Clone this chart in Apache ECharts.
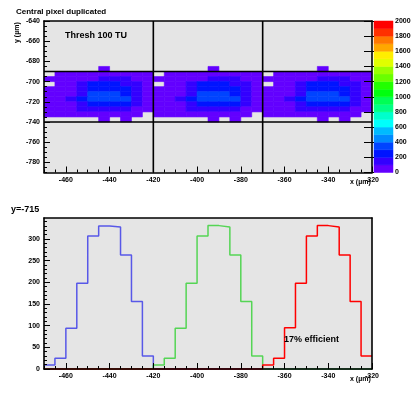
<!DOCTYPE html>
<html><head><meta charset="utf-8">
<script src="https://cdn.jsdelivr.net/npm/echarts@6/dist/echarts.min.js"></script>
<style>html,body{margin:0;padding:0;background:#fff;}#c{width:418px;height:393px;}</style>
</head><body><div id="c"></div>
<script>
// ---------- DATA ----------
// x bin centres of one pixel copy (5 um bins), and shifts of the 3 duplicated copies
const blockColCenters = [-467.5,-462.5,-457.5,-452.5,-447.5,-442.5,-437.5,-432.5,-427.5,-422.5];
const blockShifts = [0, 50, 100];
// y bin centres, top row first
const rowCenters = [-687.5,-692.5,-697.5,-702.5,-707.5,-712.5,-717.5,-722.5,-727.5,-732.5,-737.5];
// counts per cell (rows top->bottom, cols left->right), 0 = empty
const cellRowA = [0,0,0,0,0,12,0,0,0,0];
const cellRowB = [0,5,14,30,45,58,55,40,22,8];
const cellRowC = [6,18,40,70,95,120,125,110,60,20];
const cellRowD = [0,22,60,130,220,260,255,180,110,25];
const cellRowE = [8,24,85,185,280,295,292,250,150,28];
const cellRowF = [9,25,94,198,307,330,328,263,156,30];
const cellRowG = [9,26,110,210,320,345,340,305,170,32];
const cellRowH = [7,22,80,170,260,285,280,230,130,25];
const cellRowI = [5,15,55,110,160,180,178,140,80,15];
const cellRowJ = [3,8,20,35,50,60,55,40,15,0];
const cellRowK = [0,0,0,0,0,6,0,4,0,0];
const cellRows = [cellRowA,cellRowB,cellRowC,cellRowD,cellRowE,cellRowF,cellRowG,cellRowH,cellRowI,cellRowJ,cellRowK];
// pixel boundaries
const pixelEdgesX = [-420, -370];
const pixelEdgesY = [-690, -740];

// projection at y=-715 : bin low edges and counts
const histBinLow = [-470,-465,-460,-455,-450,-445,-440,-435,-430,-425,
                    -420,-415,-410,-405,-400,-395,-390,-385,-380,-375,
                    -370,-365,-360,-355,-350,-345,-340,-335,-330,-325];
const histEnd = -320;
const blueCounts  = [9,25,94,198,307,330,328,263,156,30, 0,0,0,0,0,0,0,0,0,0, 0,0,0,0,0,0,0,0,0,0];
const greenCounts = [0,0,0,0,0,0,0,0,0,0, 9,25,94,198,307,331,328,263,156,30, 0,0,0,0,0,0,0,0,0,0];
const redCounts   = [0,0,0,0,0,0,0,0,0,0, 0,0,0,0,0,0,0,0,0,0, 9,25,95,198,307,331,328,263,156,30];

// tick labels
const xMajorTicks = [-460,-440,-420,-400,-380,-360,-340,-320];
const yTopMajorTicks = [-780,-760,-740,-720,-700,-680,-660,-640];
const yBotMajorTicks = [0,50,100,150,200,250,300];
const colorLevels = [0,100,200,300,400,500,600,700,800,900,1000,1100,1200,1300,1400,1500,1600,1700,1800,1900];

// ---------- STYLE / LAYOUT ----------
const palette = ['#6300ff','#3300ff','#0014ff','#0044ff','#008bff','#00bbff','#00fffc','#00ffcc','#00ff85','#00ff55',
                 '#00ff0e','#22ff00','#69ff00','#99ff00','#e0ff00','#ffee00','#ffa700','#ff7700','#ff3000','#ff0000'];
const binW = 5, binH = 5, levelStep = 100;
const FONT = 'Liberation Sans, Arial, Helvetica, sans-serif';
const frameW = 1.6;
const xMin = -470, xMax = -320, yTopMin = -790, yTopMax = -640, yBotMin = 0, yBotMax = 348.6;

function range(a, b, s){ const r=[]; for(let v=a; v<=b+1e-9; v+=s) r.push(v); return r; }
const xMinor = range(xMin, xMax, 5);
const yTopMinor = range(yTopMin, yTopMax, 5);
const yBotMinor = range(0, 340, 10);

// heat cells
const heatData = [];
blockShifts.forEach(sh => {
  cellRows.forEach((row, ri) => {
    row.forEach((v, ci) => { if (v > 0) heatData.push([blockColCenters[ci] + sh, rowCenters[ri], v]); });
  });
});
const cbData = colorLevels.map((lo, i) => [lo, lo + levelStep, i]);
function histLine(counts){ const d = histBinLow.map((x,i)=>[x, counts[i]]); d.push([histEnd, counts[counts.length-1]]); return d; }

const plain = v => String(v);
const labelStyle = {fontSize: 7, fontWeight: 'bold', fontFamily: FONT, color: '#000', formatter: plain};
function mainX(gi, ticks){ return {gridIndex: gi, type:'value', min:xMin, max:xMax, position:'bottom', z:10,
  axisLine:{show:true, lineStyle:{color:'#000', width:frameW}}, splitLine:{show:false},
  axisTick:{show:true, inside:true, length:6, customValues:ticks, lineStyle:{color:'#000', width:1}},
  axisLabel:Object.assign({customValues:ticks, margin:4}, labelStyle)}; }
function minorX(gi){ return {gridIndex: gi, type:'value', min:xMin, max:xMax, position:'bottom', z:10,
  axisLine:{show:false}, splitLine:{show:false}, axisLabel:{show:false},
  axisTick:{show:true, inside:true, length:3, customValues:xMinor, lineStyle:{color:'#000', width:1}}}; }
function topX(gi){ return {gridIndex: gi, type:'value', min:xMin, max:xMax, position:'top', z:10,
  axisLine:{show:true, onZero:false, lineStyle:{color:'#000', width:frameW}}, splitLine:{show:false}, axisLabel:{show:false}, axisTick:{show:false}}; }
function mainY(gi, mn, mx, ticks){ return {gridIndex: gi, type:'value', min:mn, max:mx, position:'left', z:10,
  axisLine:{show:true, onZero:false, lineStyle:{color:'#000', width:frameW}}, splitLine:{show:false},
  axisTick:{show:true, inside:true, length:6, customValues:ticks, lineStyle:{color:'#000', width:1}},
  axisLabel:Object.assign({customValues:ticks, margin:4}, labelStyle)}; }
function minorY(gi, mn, mx, ticks){ return {gridIndex: gi, type:'value', min:mn, max:mx, position:'left', z:10,
  axisLine:{show:false}, splitLine:{show:false}, axisLabel:{show:false},
  axisTick:{show:true, inside:true, length:3, customValues:ticks, lineStyle:{color:'#000', width:1}}}; }
function rightY(gi, mn, mx){ return {gridIndex: gi, type:'value', min:mn, max:mx, position:'right', z:10,
  axisLine:{show:true, onZero:false, lineStyle:{color:'#000', width:frameW}}, splitLine:{show:false}, axisLabel:{show:false}, axisTick:{show:false}}; }

const chart = echarts.init(document.getElementById('c'), null, {renderer:'canvas'});
const option = {
  animation: false,
  backgroundColor: '#fff',
  grid: [
    {left:44, right:46, top:21, height:151.5, show:true, backgroundColor:'#e5e5e5', borderWidth:0},
    {left:374, width:19, top:21, height:151.5, show:false},
    {left:44, right:46, top:218, height:151, show:true, backgroundColor:'#e5e5e5', borderWidth:0}
  ],
  xAxis: [
    mainX(0, xMajorTicks), minorX(0), topX(0),
    {gridIndex:1, type:'value', min:0, max:1, show:false},
    mainX(2, xMajorTicks), minorX(2), topX(2)
  ],
  yAxis: [
    mainY(0, yTopMin, yTopMax, yTopMajorTicks), minorY(0, yTopMin, yTopMax, yTopMinor), rightY(0, yTopMin, yTopMax),
    {gridIndex:1, type:'value', min:0, max:2000, interval:200, position:'right', z:10,
     axisLine:{show:false}, splitLine:{show:false},
     axisTick:{show:true, inside:true, length:10, lineStyle:{color:'#000', width:1}},
     axisLabel:Object.assign({margin:2}, labelStyle)},
    mainY(2, yBotMin, yBotMax, yBotMajorTicks), minorY(2, yBotMin, yBotMax, yBotMinor), rightY(2, yBotMin, yBotMax)
  ],
  series: [
    {type:'custom', xAxisIndex:0, yAxisIndex:0, data:heatData, z:2,
     renderItem:function(params, api){
       const x = api.value(0), y = api.value(1), v = api.value(2);
       const p0 = api.coord([x - binW/2, y + binH/2]);
       const p1 = api.coord([x + binW/2, y - binH/2]);
       const c = palette[Math.min(palette.length-1, Math.floor(v/levelStep))];
       return {type:'rect', shape:{x:p0[0], y:p0[1], width:p1[0]-p0[0], height:p1[1]-p0[1]},
               style:{fill:c, stroke:c, lineWidth:0.6}};
     }},
    ...pixelEdgesX.map(x => ({type:'line', xAxisIndex:0, yAxisIndex:0, data:[[x, yTopMin],[x, yTopMax]], symbol:'none', z:4,
       lineStyle:{color:'#000', width:frameW}})),
    ...pixelEdgesY.map(y => ({type:'line', xAxisIndex:0, yAxisIndex:0, data:[[xMin, y],[xMax, y]], symbol:'none', z:4,
       lineStyle:{color:'#000', width:frameW}})),
    {type:'custom', xAxisIndex:3, yAxisIndex:3, data:cbData, z:2,
     renderItem:function(params, api){
       const lo = api.value(0), hi = api.value(1), i = api.value(2);
       const p0 = api.coord([0, hi]);
       const p1 = api.coord([1, lo]);
       return {type:'rect', shape:{x:p0[0], y:p0[1], width:p1[0]-p0[0], height:p1[1]-p0[1]},
               style:{fill:palette[i], stroke:palette[i], lineWidth:0.5}};
     }},
    {type:'line', xAxisIndex:4, yAxisIndex:4, step:'end', data:histLine(blueCounts), symbol:'none', clip:false, z:3,
     lineStyle:{color:'#5858e8', width:1.5}},
    {type:'line', xAxisIndex:4, yAxisIndex:4, step:'end', data:histLine(greenCounts), symbol:'none', clip:false, z:4,
     lineStyle:{color:'#55d555', width:1.5}},
    {type:'line', xAxisIndex:4, yAxisIndex:4, step:'end', data:histLine(redCounts), symbol:'none', clip:false, z:5,
     lineStyle:{color:'#ff0000', width:1.5}}
  ],
  graphic: [
    {type:'text', left:16, top:8, z:20, style:{text:'Central pixel duplicated', font:'bold 8px '+FONT, fill:'#000'}},
    {type:'text', left:65, top:31, z:20, style:{text:'Thresh 100 TU', font:'bold 9px '+FONT, fill:'#000'}},
    {type:'text', x:17, y:43, rotation:Math.PI/2, z:20, style:{text:'y (\u00b5m)', font:'bold 7px '+FONT, fill:'#000', align:'left', verticalAlign:'middle'}},
    {type:'text', left:350, top:179, z:20, style:{text:'x (\u00b5m)', font:'bold 7px '+FONT, fill:'#000'}},
    {type:'text', left:11, top:205, z:20, style:{text:'y=-715', font:'bold 9px '+FONT, fill:'#000'}},
    {type:'text', left:284, top:335, z:20, style:{text:'17% efficient', font:'bold 9px '+FONT, fill:'#000'}},
    {type:'text', left:350, top:376, z:20, style:{text:'x (\u00b5m)', font:'bold 7px '+FONT, fill:'#000'}}
  ]
};
chart.setOption(option);
</script></body></html>
